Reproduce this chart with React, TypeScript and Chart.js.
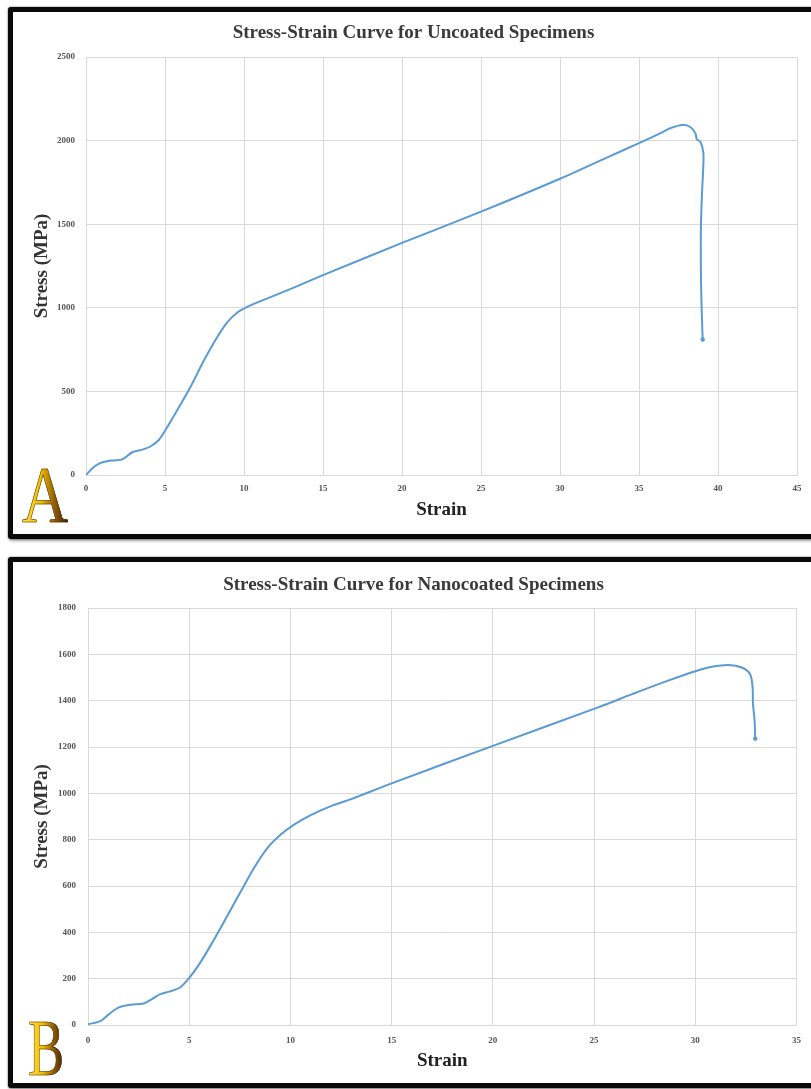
import React, { useEffect, useRef } from 'react';
import { Chart, registerables } from 'chart.js';

Chart.register(...registerables);

// ---- Data: Uncoated specimens (panel A) ----
const strainA = [0, 0.45, 0.93, 1.4, 1.77, 2.3, 2.93, 3.57, 4.1, 4.62, 5.04, 5.78, 6.62, 7.47, 8.3, 8.94, 9.58, 10.2, 11.05, 13, 15, 20, 25, 30, 33, 35, 36.37, 37.0, 37.74, 38.27, 38.59, 38.65, 38.9, 39.07, 39.07, 38.99, 38.92, 38.92, 38.97, 39.03];
const stressA = [0, 45, 73, 84, 87, 93, 136, 152, 172, 211, 271, 389, 528, 686, 824, 913, 972, 1005, 1040, 1115, 1195, 1388, 1575, 1772, 1900, 1985, 2045, 2075, 2094, 2080, 2040, 2010, 1990, 1930, 1850, 1690, 1490, 1190, 980, 810];

// ---- Data: Nanocoated specimens (panel B) ----
const strainB = [0, 0.64, 1.04, 1.53, 2.1, 2.75, 3.16, 3.57, 4.05, 4.54, 4.95, 5.44, 6.09, 6.74, 7.56, 8.2, 8.86, 9.51, 10.16, 10.98, 12, 13, 15, 20, 25.23, 26.88, 28.52, 30, 30.82, 31.64, 32.3, 32.71, 32.83, 32.85, 32.93, 32.96];
const stressB = [3, 18, 47, 76, 87, 93, 112, 133, 145, 162, 198, 255, 348, 449, 578, 678, 764, 821, 864, 905, 945, 975, 1043, 1205, 1372, 1428, 1482, 1527, 1546, 1554, 1543, 1514, 1457, 1386, 1314, 1236];

// ---- Axis ranges / ticks ----
const xRangeA = [0, 45];
const xStepA = 5;
const yRangeA = [0, 2500];
const yStepA = 500;
const xRangeB = [0, 35];
const xStepB = 5;
const yRangeB = [0, 1800];
const yStepB = 200;

const titleA = 'Stress-Strain Curve for Uncoated Specimens';
const titleB = 'Stress-Strain Curve for Nanocoated Specimens';
const xTitle = 'Strain';
const yTitle = 'Stress (MPa)';

const SERIF = "'Liberation Serif', 'Times New Roman', serif";
const LINE = '#5b9bd5';
const GRID = '#d9d9d9';

type Layout = {
  titleTop: number;
  titleBottom: number;
  yWidth: number;
  xHeight: number;
  yTickPad: number;
  xTickPad: number;
  xTitleBottom: number;
  padLeft: number;
  padRight: number;
};

function makeConfig(
  strain: number[],
  stress: number[],
  xr: number[],
  xs: number,
  yr: number[],
  ys: number,
  title: string,
  L: Layout
): any {
  const pts = strain.map((s, i) => ({ x: s, y: stress[i] }));
  const last = pts.length - 1;
  return {
    type: 'scatter',
    data: {
      datasets: [
        {
          data: pts,
          showLine: true,
          borderColor: LINE,
          backgroundColor: LINE,
          borderWidth: 2,
          tension: 0.3,
          pointRadius: (c: any) => (c.dataIndex === last ? 2.2 : 0),
          pointHoverRadius: 0,
          pointBorderWidth: 0,
        },
      ],
    },
    options: {
      responsive: false,
      animation: false,
      devicePixelRatio: 1,
      layout: { padding: { left: L.padLeft, right: L.padRight, top: 0, bottom: 0 } },
      plugins: {
        legend: { display: false },
        tooltip: { enabled: false },
        title: {
          display: true,
          text: title,
          color: '#3a3a3a',
          font: { family: SERIF, size: 19, weight: 'bold' },
          padding: { top: L.titleTop, bottom: L.titleBottom },
        },
      },
      scales: {
        x: {
          type: 'linear',
          min: xr[0],
          max: xr[1],
          ticks: {
            stepSize: xs,
            autoSkip: false,
            color: '#555',
            padding: L.xTickPad,
            font: { family: SERIF, size: 9, weight: 'bold' },
            callback: (v: any) => String(v),
          },
          grid: { color: GRID, drawTicks: false, lineWidth: 1 },
          border: { color: GRID, width: 1 },
          title: {
            display: true,
            text: xTitle,
            color: '#222',
            font: { family: SERIF, size: 19, weight: 'bold' },
            padding: { top: 0, bottom: L.xTitleBottom },
          },
          afterFit: (sc: any) => {
            sc.height = L.xHeight;
          },
        },
        y: {
          type: 'linear',
          min: yr[0],
          max: yr[1],
          ticks: {
            stepSize: ys,
            autoSkip: false,
            color: '#555',
            padding: L.yTickPad,
            font: { family: SERIF, size: 9, weight: 'bold' },
            callback: (v: any) => String(v),
          },
          grid: { color: GRID, drawTicks: false, lineWidth: 1 },
          border: { color: GRID, width: 1 },
          title: {
            display: true,
            text: yTitle,
            color: '#333',
            font: { family: SERIF, size: 19, weight: 'bold' },
            padding: { top: 0.6, bottom: 0 },
          },
          afterFit: (sc: any) => {
            sc.width = L.yWidth;
          },
        },
      },
    },
  };
}

function ChartCanvas(props: { cfg: () => any; w: number; h: number; left: number; top: number }) {
  const ref = useRef<HTMLCanvasElement | null>(null);
  useEffect(() => {
    if (!ref.current) return;
    const chart = new Chart(ref.current, props.cfg());
    return () => chart.destroy();
  }, []);
  return (
    <canvas
      ref={ref}
      width={props.w}
      height={props.h}
      style={{ position: 'absolute', left: props.left, top: props.top, width: props.w, height: props.h, display: 'block' }}
    />
  );
}

const panelStyle = (top: number, height: number): React.CSSProperties => ({
  position: 'absolute',
  left: 8,
  top,
  width: 840,
  height,
  boxSizing: 'border-box',
  border: '5px solid #0a0a0a',
  borderRadius: 3,
  boxShadow: '0 0 2px rgba(0,0,0,0.6), 1px 2px 3px rgba(0,0,0,0.35)',
  background: '#fff',
});

const letterStyle = (left: number, top: number, sx: number): React.CSSProperties => ({
  position: 'absolute',
  left,
  top,
  fontFamily: SERIF,
  fontSize: 80,
  lineHeight: '80px',
  fontWeight: 'normal',
  transform: `scaleX(${sx})`,
  transformOrigin: 'left top',
  background: 'linear-gradient(90deg, #ffe24a 0%, #f0c000 40%, #8a5a08 72%, #3e1c06 100%)',
  WebkitBackgroundClip: 'text',
  backgroundClip: 'text',
  color: 'transparent',
  WebkitTextStroke: '0.6px #4a2608',
  userSelect: 'none',
});

export default function App() {
  const layoutA: Layout = {
    titleTop: 9.6,
    titleBottom: 12.6,
    yWidth: 56,
    xHeight: 59,
    yTickPad: 11,
    xTickPad: 8,
    xTitleBottom: 12.6,
    padLeft: 17,
    padRight: 14,
  };
  const layoutB: Layout = {
    titleTop: 11.6,
    titleBottom: 11.6,
    yWidth: 58,
    xHeight: 58,
    yTickPad: 12,
    xTickPad: 10,
    xTitleBottom: 10.6,
    padLeft: 17,
    padRight: 14,
  };
  return (
    <div style={{ position: 'absolute', left: 0, top: 0, width: 811, height: 1089, overflow: 'hidden', background: '#fff' }}>
      <div style={panelStyle(7, 532)} />
      <div style={panelStyle(557, 531)} />
      <ChartCanvas
        w={798}
        h={522}
        left={13}
        top={12}
        cfg={() => makeConfig(strainA, stressA, xRangeA, xStepA, yRangeA, yStepA, titleA, layoutA)}
      />
      <ChartCanvas
        w={798}
        h={521}
        left={13}
        top={562}
        cfg={() => makeConfig(strainB, stressB, xRangeB, xStepB, yRangeB, yStepB, titleB, layoutB)}
      />
      <span style={letterStyle(22, 455, 0.8)}>A</span>
      <span style={letterStyle(28, 1008, 0.68)}>B</span>
    </div>
  );
}
